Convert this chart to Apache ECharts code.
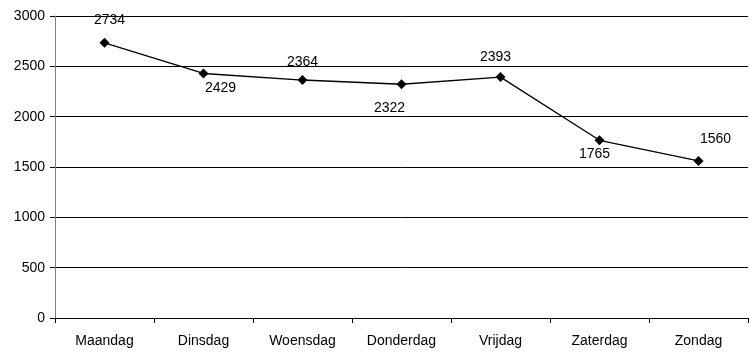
<!DOCTYPE html>
<html><head><meta charset="utf-8">
<script src="https://cdn.jsdelivr.net/npm/echarts@6/dist/echarts.min.js"></script>
<style>html,body{margin:0;padding:0;background:#fff}#c{width:750px;height:353px}</style>
</head><body><div id="c"></div>
<script>
const categories = ['Maandag','Dinsdag','Woensdag','Donderdag','Vrijdag','Zaterdag','Zondag'];
const values = [2734, 2429, 2364, 2322, 2393, 1765, 1560];
const yTicks = [0, 500, 1000, 1500, 2000, 2500, 3000];
const labelOff = [[5,-23],[17,15],[0,-18],[-12,24],[-5,-20],[-5,14],[17,-22]];

const chart = echarts.init(document.getElementById('c'), null, {renderer:'canvas'});
const font = 'Liberation Sans, Arial, sans-serif';
chart.setOption({
  animation:false,
  grid:{left:55,right:2,top:16,bottom:35,containLabel:false},
  xAxis:{type:'category',data:categories,boundaryGap:true,
    axisLine:{lineStyle:{color:'#000',width:1}},
    axisTick:{show:true,alignWithLabel:false,length:5,lineStyle:{color:'#000'}},
    axisLabel:{color:'#000',fontFamily:font,fontSize:14,margin:16}},
  yAxis:{type:'value',min:yTicks[0],max:yTicks[yTicks.length-1],interval:500,
    axisLine:{show:true,lineStyle:{color:'#808080'}},
    axisTick:{show:true,length:5,lineStyle:{color:'#000'}},
    splitLine:{lineStyle:{color:'#000',width:1}},
    axisLabel:{color:'#000',fontFamily:font,fontSize:14,margin:10,formatter:v=>String(v)}},
  series:[{type:'line',data:values.map((v,i)=>({value:v,label:{offset:labelOff[i]}})),
    symbol:'diamond',symbolSize:10,
    lineStyle:{color:'#000',width:1.3},
    itemStyle:{color:'#000'},
    label:{show:true,position:'inside',align:'center',verticalAlign:'middle',color:'#000',fontFamily:font,fontSize:14}}]
});
</script></body></html>
